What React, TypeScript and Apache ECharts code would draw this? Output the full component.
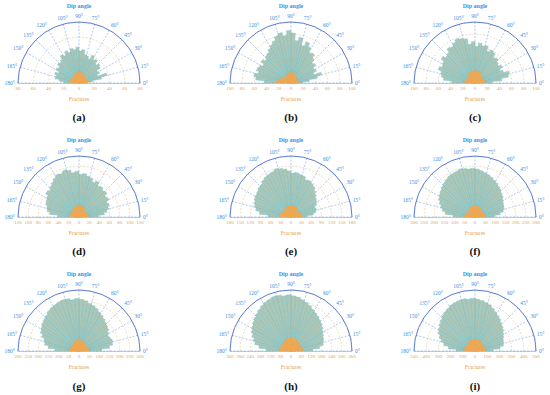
import React, { useEffect, useRef } from 'react';
import * as echarts from 'echarts';

// 5° dip bins over the whole circle (only 0°–180° carry data)
const bins: string[] = Array.from({ length: 72 }, (_, k) => `${k * 5}-${k * 5 + 5}`);

const panelLabels = ['(a)', '(b)', '(c)', '(d)', '(e)', '(f)', '(g)', '(h)', '(i)'];
const radialMax = [80, 100, 100, 120, 180, 300, 300, 360, 500];
const radialStep = [20, 20, 20, 20, 30, 50, 50, 60, 100];

// fracture counts per 5° dip bin (0° → 180°)
const fracA = [10, 18, 30, 38, 26, 30, 28, 34, 36, 33, 38, 36, 40, 34, 37, 38, 44, 42, 47, 44, 46, 42, 45, 40, 43, 38, 36, 37, 33, 35, 30, 34, 31, 32, 26, 20];
const fracB = [18, 30, 44, 52, 40, 46, 44, 50, 48, 54, 60, 58, 66, 72, 64, 76, 70, 82, 86, 78, 84, 80, 74, 70, 66, 62, 60, 56, 60, 54, 58, 60, 56, 62, 58, 44];
const fracC = [28, 44, 56, 58, 50, 46, 52, 48, 50, 54, 52, 58, 60, 56, 64, 62, 66, 60, 68, 64, 74, 76, 78, 74, 70, 72, 66, 64, 68, 62, 60, 64, 58, 56, 52, 38];
const fracD = [38, 50, 56, 60, 64, 62, 68, 66, 72, 70, 74, 72, 78, 74, 80, 82, 86, 84, 90, 88, 94, 96, 92, 94, 90, 86, 82, 78, 80, 74, 72, 70, 66, 64, 58, 42];
const fracE = [48, 66, 74, 78, 76, 84, 88, 92, 98, 104, 112, 116, 120, 118, 126, 128, 132, 130, 136, 142, 146, 148, 144, 142, 140, 136, 130, 128, 124, 122, 120, 116, 112, 106, 94, 68];
const fracF = [96, 124, 142, 148, 152, 156, 162, 170, 176, 184, 190, 198, 204, 212, 218, 224, 230, 236, 240, 238, 244, 246, 242, 240, 238, 232, 226, 220, 212, 206, 198, 188, 176, 164, 146, 108];
const fracG = [112, 150, 168, 172, 166, 162, 170, 180, 186, 192, 200, 208, 216, 226, 234, 240, 248, 254, 258, 254, 262, 264, 260, 256, 252, 246, 238, 232, 226, 218, 210, 196, 180, 172, 152, 118];
const fracH = [128, 170, 194, 200, 206, 212, 222, 232, 242, 250, 260, 268, 278, 290, 300, 310, 320, 326, 332, 328, 336, 338, 332, 326, 318, 308, 298, 290, 280, 270, 260, 246, 230, 218, 190, 146];
const fracI = [148, 206, 238, 244, 250, 262, 274, 290, 302, 316, 332, 346, 362, 380, 396, 408, 418, 426, 432, 428, 436, 434, 430, 424, 414, 404, 392, 378, 364, 350, 336, 314, 290, 262, 220, 156];

// central (orange) counts per bin
const coreA = [12, 13, 13, 12, 11, 11, 11, 11, 11, 12, 12, 13, 13, 13, 14, 14, 14, 14, 14, 14, 14, 14, 13, 13, 12, 12, 11, 11, 11, 11, 11, 12, 12, 13, 13, 12];
const coreB = [14, 14, 13, 12, 11, 11, 11, 11, 12, 13, 14, 15, 16, 16, 17, 17, 17, 17, 17, 17, 17, 16, 16, 15, 14, 14, 14, 14, 15, 16, 17, 18, 20, 22, 23, 24];
const coreC = [17, 17, 16, 15, 14, 14, 14, 14, 15, 16, 17, 18, 19, 19, 20, 20, 20, 20, 20, 20, 20, 20, 19, 19, 18, 17, 16, 15, 14, 14, 14, 14, 15, 16, 17, 17];
const coreD = [19, 19, 18, 17, 16, 16, 16, 16, 17, 18, 19, 20, 21, 21, 22, 22, 22, 22, 22, 22, 22, 22, 21, 21, 20, 19, 18, 17, 16, 16, 16, 16, 17, 18, 19, 19];
const coreE = [34, 34, 32, 30, 29, 28, 27, 27, 28, 29, 30, 31, 32, 32, 33, 33, 33, 33, 33, 33, 33, 33, 32, 32, 31, 30, 29, 28, 27, 27, 28, 29, 31, 32, 34, 34];
const coreF = [52, 52, 50, 48, 46, 44, 43, 43, 44, 45, 47, 49, 50, 52, 53, 54, 54, 54, 54, 54, 54, 53, 52, 50, 49, 47, 45, 44, 43, 43, 44, 46, 48, 50, 52, 52];
const coreG = [50, 50, 48, 46, 45, 44, 43, 43, 44, 45, 47, 49, 50, 52, 53, 54, 54, 54, 54, 54, 54, 53, 52, 50, 49, 47, 45, 44, 43, 43, 44, 45, 47, 48, 50, 50];
const coreH = [70, 70, 68, 66, 64, 63, 63, 64, 65, 67, 69, 71, 72, 74, 75, 76, 77, 77, 77, 77, 76, 75, 74, 72, 71, 69, 67, 65, 64, 63, 63, 64, 66, 68, 70, 70];
const coreI = [88, 88, 86, 84, 82, 81, 81, 82, 83, 85, 87, 89, 90, 92, 93, 94, 95, 95, 95, 95, 94, 93, 92, 90, 89, 87, 85, 83, 82, 81, 81, 82, 84, 86, 88, 88];

const fracData = [fracA, fracB, fracC, fracD, fracE, fracF, fracG, fracH, fracI];
const coreData = [coreA, coreB, coreC, coreD, coreE, coreF, coreG, coreH, coreI];

const colX = [79, 291, 475];
const rowY = [83, 217, 351];
const R = 61;
const SERIF = 'Liberation Serif, DejaVu Serif, serif';

// lower half of the circle carries no data
const padLower = (arr: number[]) => [...arr, ...new Array(36).fill(null)];

function buildOption() {
  const polar: any[] = [];
  const angleAxis: any[] = [];
  const radiusAxis: any[] = [];
  const grid: any[] = [];
  const xAxis: any[] = [];
  const yAxis: any[] = [];
  const series: any[] = [];
  const graphics: any[] = [];

  panelLabels.forEach((lab, i) => {
    const cx = colX[i % 3];
    const cy = rowY[Math.floor(i / 3)];
    const max = radialMax[i];
    const iv = radialStep[i];

    // display polar (angle ticks, circles)
    polar.push({ center: [cx, cy], radius: R });
    angleAxis.push({
      polarIndex: 2 * i,
      type: 'value',
      min: 0,
      max: 180,
      interval: 15,
      startAngle: 0,
      endAngle: 180,
      clockwise: false,
      z: 1,
      axisLine: { show: true, lineStyle: { color: '#5b80dc', width: 1 } },
      axisTick: { show: false },
      axisLabel: { formatter: '{value}°', color: '#3d8fe6', fontSize: 5.5, fontFamily: SERIF, margin: 3 },
      splitLine: { show: true, lineStyle: { color: '#7aa6e6', type: [2, 1.5], width: 0.6 } },
    });
    radiusAxis.push({
      polarIndex: 2 * i,
      type: 'value',
      min: 0,
      max,
      interval: iv,
      z: 1,
      axisLine: { show: false },
      axisTick: { show: false },
      axisLabel: { show: false },
      splitLine: { show: true, lineStyle: { color: '#e9c48c', type: [2, 1.5], width: 0.6 } },
    });

    // bar polar (full circle, 0° at right, counter-clockwise)
    polar.push({ center: [cx, cy], radius: R });
    angleAxis.push({
      polarIndex: 2 * i + 1,
      type: 'category',
      data: bins,
      startAngle: 0,
      clockwise: false,
      boundaryGap: true,
      axisLine: { show: false },
      axisTick: { show: false },
      axisLabel: { show: false },
      splitLine: { show: false },
    });
    radiusAxis.push({
      polarIndex: 2 * i + 1,
      type: 'value',
      min: 0,
      max,
      axisLine: { show: false },
      axisTick: { show: false },
      axisLabel: { show: false },
      splitLine: { show: false },
    });

    series.push({
      type: 'bar',
      coordinateSystem: 'polar',
      polarIndex: 2 * i + 1,
      data: padLower(fracData[i]),
      barCategoryGap: '0%',
      z: 2,
      itemStyle: { color: '#a5c0ae', borderColor: '#62bfcb', borderWidth: 0.4, opacity: 0.9 },
    });
    series.push({
      type: 'bar',
      coordinateSystem: 'polar',
      polarIndex: 2 * i + 1,
      data: padLower(coreData[i]),
      barGap: '-100%',
      barCategoryGap: '0%',
      z: 3,
      itemStyle: { color: '#f4a64e', borderColor: '#f4a64e', borderWidth: 0.3 },
    });

    // bottom diameter axis
    grid.push({ left: cx - R, width: 2 * R, top: cy - 1, height: 1, containLabel: false });
    xAxis.push({
      gridIndex: i,
      type: 'value',
      min: -max,
      max,
      interval: iv,
      axisLine: { show: true, onZero: false, lineStyle: { color: '#f0c88e', width: 1 } },
      axisTick: { show: false },
      splitLine: { show: false },
      axisLabel: {
        formatter: (v: number) => String(Math.abs(v)),
        color: '#e2a24e',
        fontSize: 5,
        fontFamily: SERIF,
        margin: 3,
      },
      name: 'Fractures',
      nameLocation: 'middle',
      nameGap: 13,
      nameTextStyle: { color: '#e2a24e', fontSize: 5.5, fontFamily: SERIF },
    });
    yAxis.push({ gridIndex: i, type: 'value', show: false });

    graphics.push({
      type: 'text',
      x: cx,
      y: cy - 77,
      style: {
        text: 'Dip angle',
        fill: '#3d8fe6',
        font: `bold 6px ${SERIF}`,
        textAlign: 'center',
        textVerticalAlign: 'middle',
      },
    });
    graphics.push({
      type: 'text',
      x: cx,
      y: cy + 34 + (i >= 6 ? 1 : 0),
      style: {
        text: lab,
        fill: '#111',
        font: `bold 11px ${SERIF}`,
        textAlign: 'center',
        textVerticalAlign: 'middle',
      },
    });
  });

  return {
    animation: false,
    backgroundColor: '#ffffff',
    polar,
    angleAxis,
    radiusAxis,
    grid,
    xAxis,
    yAxis,
    series,
    graphic: graphics,
  };
}

export default function App() {
  const ref = useRef<HTMLDivElement>(null);
  useEffect(() => {
    if (!ref.current) return;
    const chart = echarts.init(ref.current, undefined, { renderer: 'svg' });
    chart.setOption(buildOption());
    return () => chart.dispose();
  }, []);
  return (
    <div
      ref={ref}
      style={{ position: 'absolute', left: 0, top: 0, width: 550, height: 395, background: '#fff' }}
    />
  );
}
